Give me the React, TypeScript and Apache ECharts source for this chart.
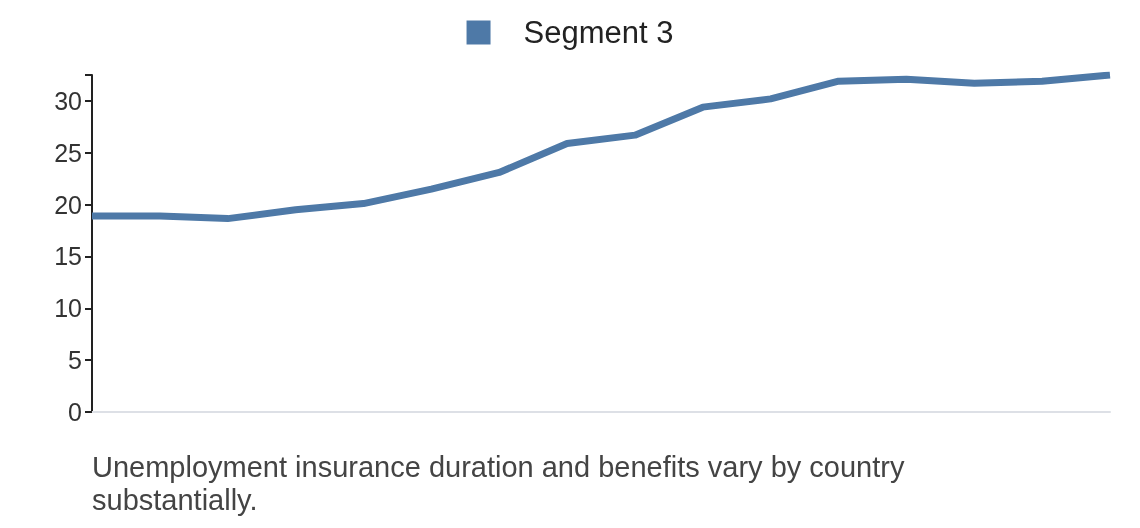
import React, { useEffect, useRef } from "react";
import * as echarts from "echarts";

const categories = ["1","2","3","4","5","6","7","8","9","10","11","12","13","14","15","16"];
const segment3 = [18.9, 18.9, 18.65, 19.5, 20.1, 21.5, 23.1, 25.9, 26.7, 29.4, 30.2, 31.9, 32.1, 31.7, 31.9, 32.5];
const yTicks = [0, 5, 10, 15, 20, 25, 30];

export default function App() {
  const ref = useRef<HTMLDivElement>(null);
  useEffect(() => {
    const chart = echarts.init(ref.current!, null, { renderer: "svg" });
    chart.setOption({
      animation: false,
      textStyle: { fontFamily: "Liberation Sans, Arial, sans-serif" },
      legend: {
        top: 12, left: "center", icon: "rect", itemWidth: 24, itemHeight: 24, itemGap: 20,
        textStyle: { fontSize: 31, color: "#222", padding: [0, 0, 0, 28] },
        data: ["Segment 3"],
      },
      grid: { left: 92, right: 30, top: 75, bottom: 116 },
      xAxis: {
        type: "category", data: categories, boundaryGap: false,
        axisLine: { lineStyle: { color: "#dde0e6", width: 2 } },
        axisTick: { show: false }, axisLabel: { show: false },
      },
      yAxis: {
        type: "value", min: 0, max: "dataMax", interval: 5,
        axisLine: { show: true, lineStyle: { color: "#222", width: 2 } },
        axisTick: { show: true, length: 7, lineStyle: { color: "#222", width: 2 } },
        splitLine: { show: false },
        axisLabel: { fontSize: 25, color: "#333", margin: 10, formatter: (v: number) => (yTicks.includes(v) ? String(v) : "") },
      },
      series: [{
        name: "Segment 3", type: "line", data: segment3, showSymbol: false,
        lineStyle: { color: "#4e79a7", width: 7 }, itemStyle: { color: "#4e79a7" },
      }],
      graphic: [{
        type: "text", left: 92, top: 450,
        style: { text: "Unemployment insurance duration and benefits vary by country\nsubstantially.", fontSize: 29, lineHeight: 33, fill: "#444", fontFamily: "Liberation Sans, Arial, sans-serif" },
      }],
    });
    return () => chart.dispose();
  }, []);
  return <div ref={ref} style={{ position: "fixed", left: 0, top: 0, width: 1140, height: 528 }} />;
}
